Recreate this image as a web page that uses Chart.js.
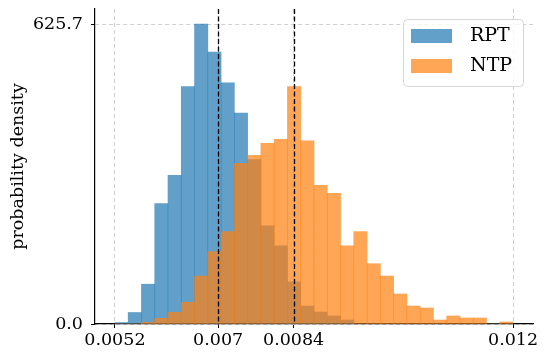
<!DOCTYPE html>
<html>
<head>
<meta charset="utf-8">
<script src="https://cdn.jsdelivr.net/npm/chart.js@4"></script>
<style>
  body { margin: 0; background: #fff; }
  canvas { display: block; }
</style>
</head>
<body>
<canvas id="histChart" width="549" height="363"></canvas>
<script>
// histogram range and bins (30 equal bins from min to max)
const dataMin = 0.0052;
const dataMax = 0.012;
const binCount = 30;

const seriesNames = ['RPT', 'NTP'];
const rptDensity = [3, 24, 83, 251, 310, 495, 625.7, 567, 503, 440, 343, 205, 163, 88, 37.5, 25, 16.7, 8.3, 0, 0, 0, 0, 0, 0, 0, 0, 0, 0, 0, 0];
const ntpDensity = [0, 0, 3.5, 11.9, 24.4, 45.3, 100, 150.8, 192.5, 335, 352, 377, 385, 495, 382, 289, 272.5, 163, 192.5, 125.8, 100, 62.6, 37.5, 33.4, 8.3, 16.7, 12.5, 12.5, 0, 4.2];

// means (dashed lines) and tick labels
const meanValues = [0.006963, 0.008252];
const xTickValues = [dataMin, meanValues[0], meanValues[1], dataMax];
const xTickLabels = ['0.0052', '0.007', '0.0084', '0.012'];
const yTickValues = [0, 625.7];
const yTickLabels = ['0.0', '625.7'];

const binWidth = (dataMax - dataMin) / binCount;
const binCenters = rptDensity.map((_, i) => dataMin + binWidth * (i + 0.5));
const span = dataMax - dataMin;
const serif = 'DejaVu Serif';

const toPoints = arr => arr.map((v, i) => ({ x: binCenters[i], y: v }));

const meanLines = {
  id: 'meanLines',
  afterDatasetsDraw(chart) {
    const { ctx, chartArea, scales } = chart;
    ctx.save();
    ctx.strokeStyle = '#000';
    ctx.lineWidth = 1.3;
    ctx.setLineDash([5, 2.5]);
    meanValues.forEach(m => {
      const x = Math.round(scales.x.getPixelForValue(m)) + 0.5;
      ctx.beginPath();
      ctx.moveTo(x, chartArea.top);
      ctx.lineTo(x, chartArea.bottom);
      ctx.stroke();
    });
    ctx.restore();
  }
};

const boxLegend = {
  id: 'boxLegend',
  afterDraw(chart) {
    const { ctx, chartArea } = chart;
    const w = 120, h = 67;
    const left = chartArea.right - 10 - w;
    const top = chartArea.top + 10;
    ctx.save();
    ctx.beginPath();
    ctx.roundRect(left + 0.5, top + 0.5, w, h, 4);
    ctx.fillStyle = 'rgba(255,255,255,0.8)';
    ctx.fill();
    ctx.strokeStyle = '#d6d6d6';
    ctx.lineWidth = 1;
    ctx.stroke();
    const colors = ['rgba(31,119,180,0.7)', 'rgba(255,127,14,0.7)'];
    ctx.font = '19px "' + serif + '"';
    ctx.textBaseline = 'middle';
    seriesNames.forEach((name, i) => {
      const y = top + 10 + i * 30;
      ctx.fillStyle = colors[i];
      ctx.fillRect(left + 8, y, 41, 14);
      ctx.fillStyle = '#000';
      ctx.fillText(name, left + 67, y + 7.5);
    });
    ctx.restore();
  }
};

new Chart(document.getElementById('histChart'), {
  type: 'bar',
  data: {
    datasets: [
      {
        label: seriesNames[0],
        data: toPoints(rptDensity),
        backgroundColor: 'rgba(31,119,180,0.7)',
        borderWidth: 0,
        grouped: false,
        order: 2,
        barPercentage: 1,
        categoryPercentage: 1
      },
      {
        label: seriesNames[1],
        data: toPoints(ntpDensity),
        backgroundColor: 'rgba(255,127,14,0.7)',
        borderWidth: 0,
        grouped: false,
        order: 1,
        barPercentage: 1,
        categoryPercentage: 1
      }
    ]
  },
  options: {
    responsive: false,
    animation: false,
    layout: { padding: { top: 9, right: 16, left: 0, bottom: 0 } },
    plugins: {
      legend: { display: false },
      tooltip: { enabled: false }
    },
    scales: {
      x: {
        type: 'linear',
        offset: false,
        min: dataMin - 0.05 * span,
        max: dataMax + 0.05 * span,
        afterBuildTicks: s => { s.ticks = xTickValues.map(v => ({ value: v })); },
        afterFit: s => { s.height = 39; },
        ticks: {
          callback: (v, i) => xTickLabels[i],
          font: { family: serif, size: 17.5 },
          color: '#000',
          maxRotation: 0,
          autoSkip: false,
          padding: 2
        },
        grid: { offset: false, color: '#d0d0d0', tickColor: '#000', tickLength: 4, lineWidth: 1 },
        border: { color: '#000', width: 1.2, dash: [4, 3] }
      },
      y: {
        min: 0,
        max: 625.7 * 1.05,
        afterBuildTicks: s => { s.ticks = yTickValues.map(v => ({ value: v })); },
        afterFit: s => { s.width = 95; s.paddingTop = 0; s.paddingBottom = 0; },
        ticks: {
          callback: (v, i) => yTickLabels[i],
          font: { family: serif, size: 17.5 },
          color: '#000',
          padding: 8
        },
        title: {
          display: true,
          text: 'probability density',
          font: { family: serif, size: 17.5 },
          color: '#000',
          padding: { top: 8, bottom: 0 }
        },
        grid: { color: '#d0d0d0', tickColor: '#000', tickLength: 4, lineWidth: 1 },
        border: { color: '#000', width: 1.2, dash: [4, 3] }
      }
    }
  },
  plugins: [meanLines, boxLegend]
});
</script>
</body>
</html>
